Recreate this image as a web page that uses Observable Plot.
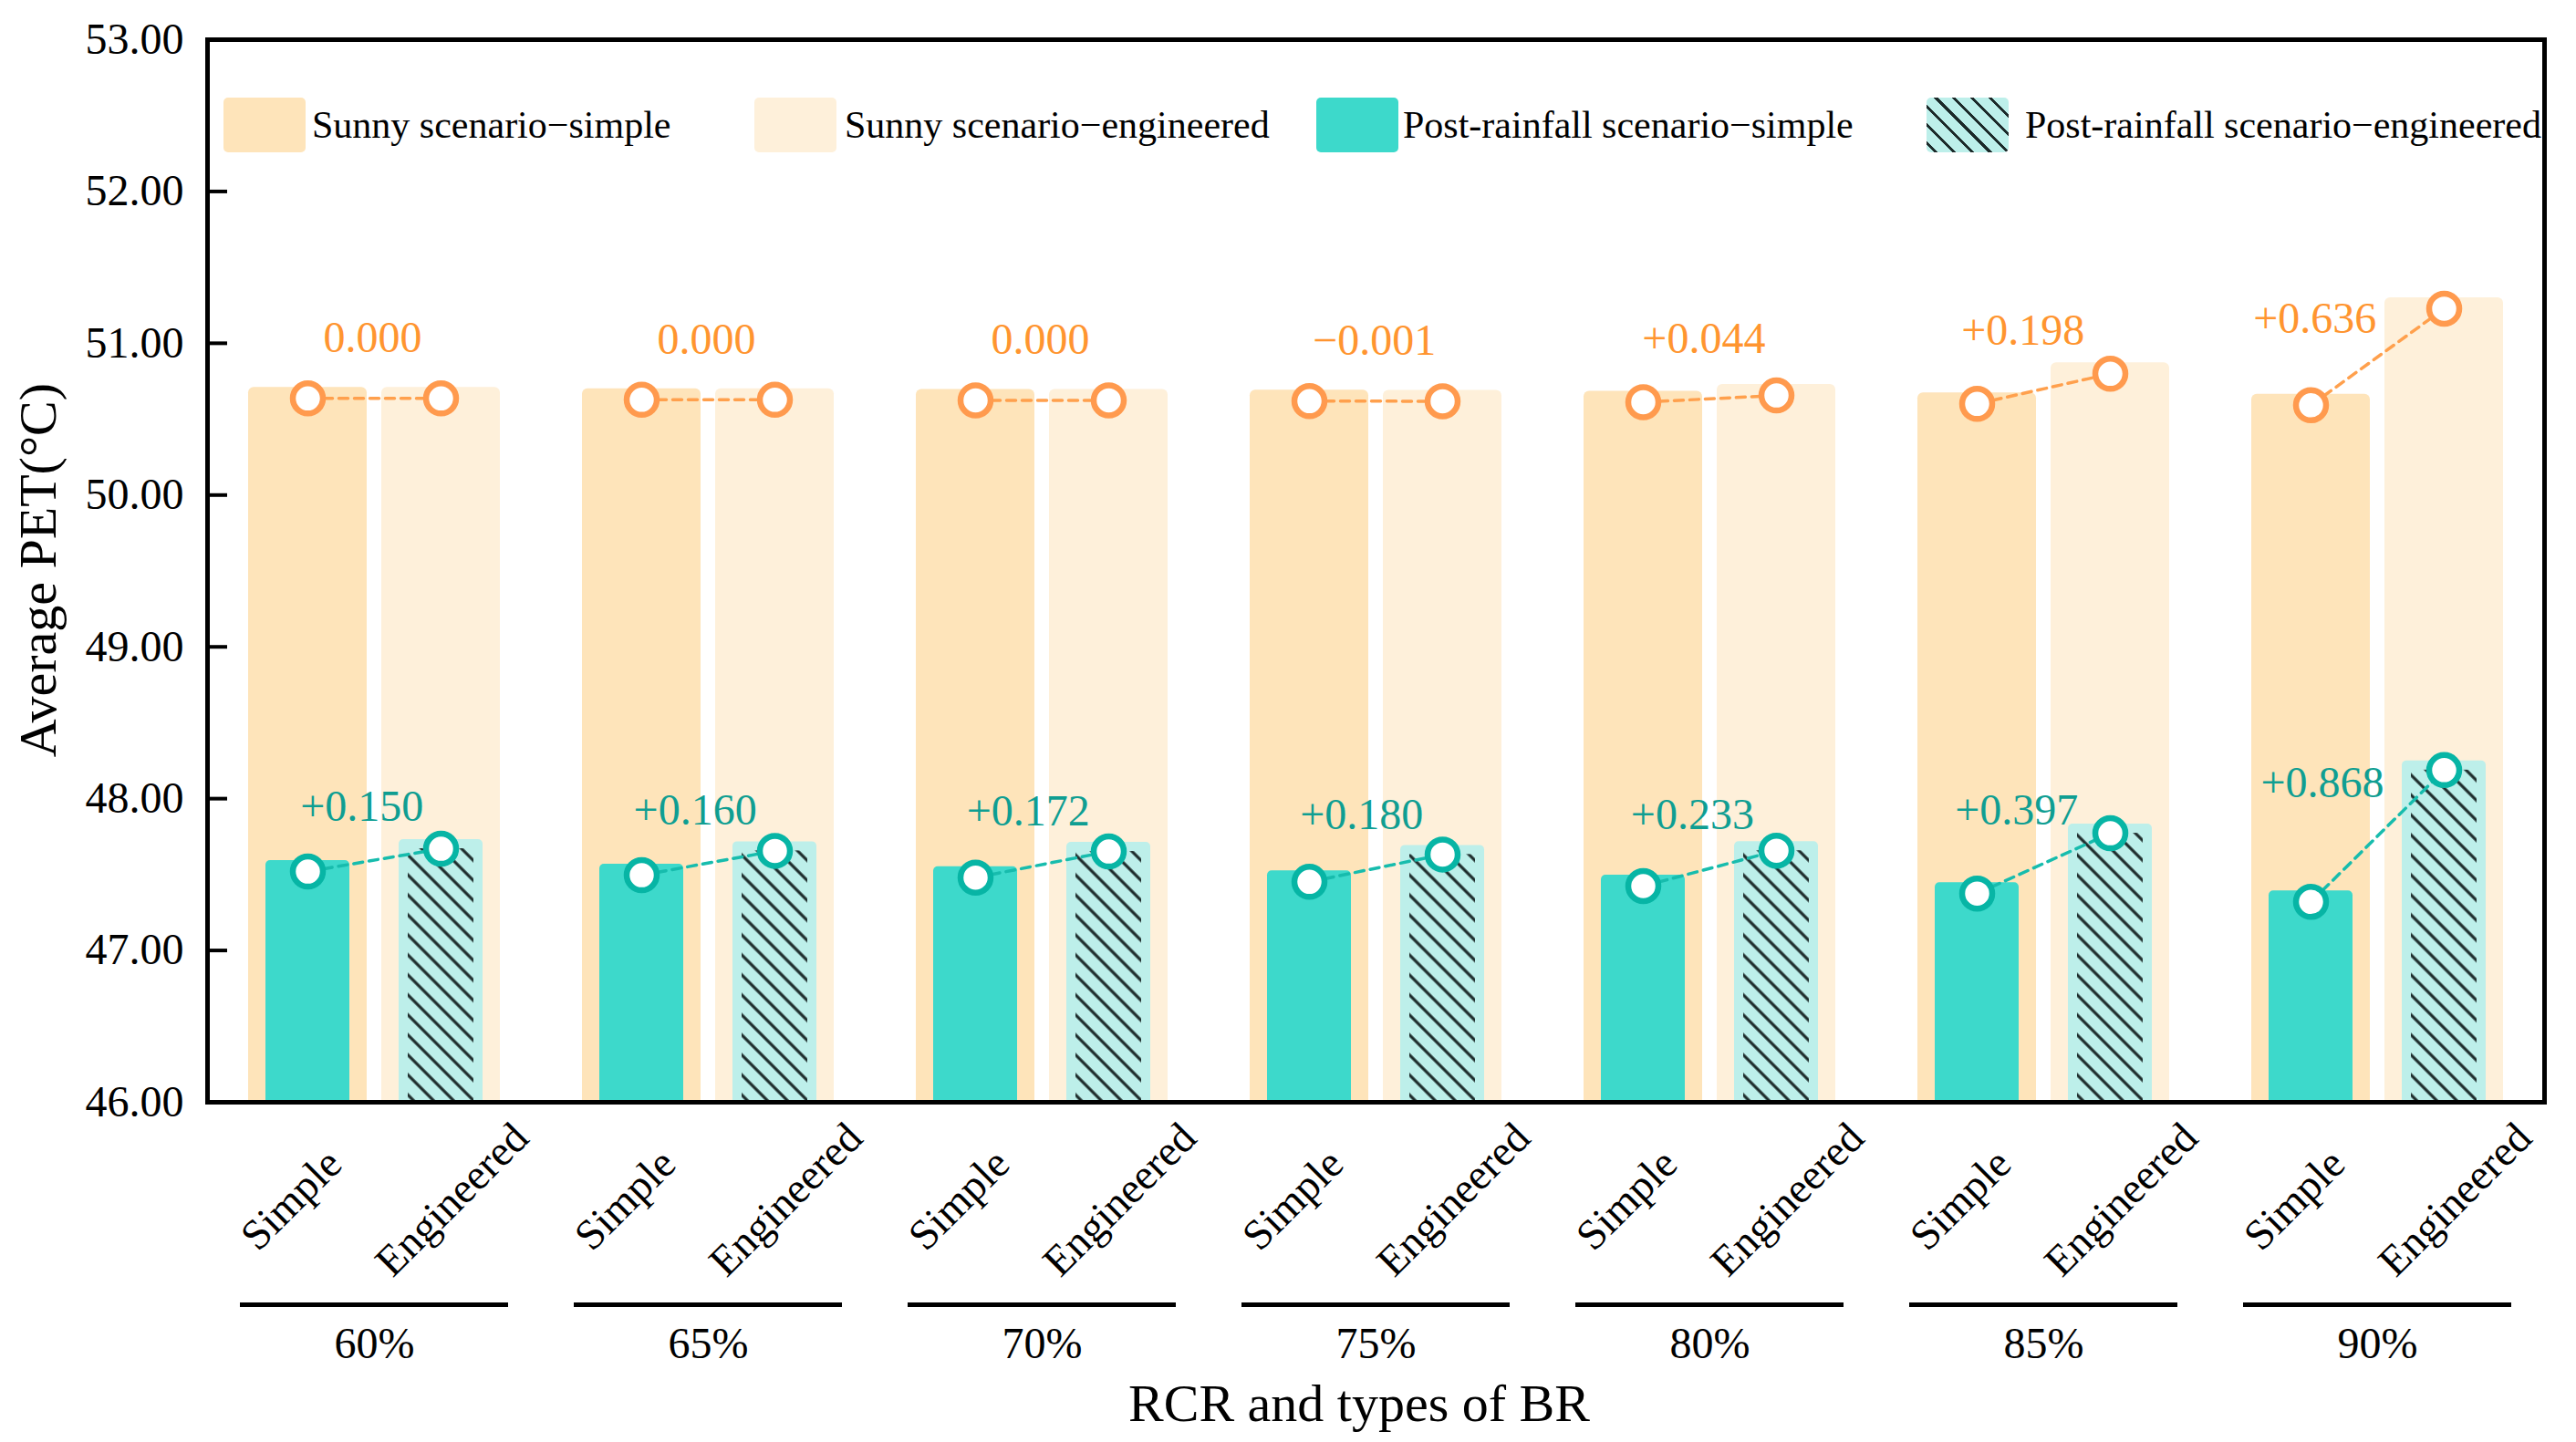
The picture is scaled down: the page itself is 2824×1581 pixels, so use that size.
<!DOCTYPE html>
<html><head><meta charset="utf-8">
<script src="https://cdn.jsdelivr.net/npm/d3@7"></script>
<script src="https://cdn.jsdelivr.net/npm/@observablehq/plot@0.6"></script>
<style>
html,body{margin:0;padding:0;background:#fff;}
#wrap{position:relative;width:2824px;height:1581px;font-family:"Liberation Serif","Times New Roman",serif;color:#000;overflow:hidden;}
#wrap svg{position:absolute;left:0;top:0;}
.sw{position:absolute;top:107px;width:90px;height:60px;border-radius:5px;}
.lbl{position:absolute;top:107px;height:60px;line-height:60px;font-size:42px;white-space:nowrap;}
.ytitle{position:absolute;font-size:58px;line-height:1;white-space:nowrap;transform:translate(-50%,-50%) rotate(-90deg);}
.xtitle{position:absolute;font-size:58px;line-height:1;white-space:nowrap;transform:translateX(-50%);}
</style></head><body><div id="wrap"></div>
<script>
// ---- data ----
const groups = ["60%", "65%", "70%", "75%", "80%", "85%", "90%"];
const types = ["Simple", "Engineered"];
const sunnySimple     = [50.637, 50.628, 50.624, 50.619, 50.612, 50.601, 50.592];
const sunnyEngineered = [50.637, 50.628, 50.624, 50.618, 50.656, 50.799, 51.228];
const rainSimple      = [47.520, 47.496, 47.480, 47.452, 47.424, 47.375, 47.320];
const rainEngineered  = [47.670, 47.656, 47.652, 47.632, 47.657, 47.772, 48.188];
const sunnyDiffLabels = ["0.000", "0.000", "0.000", "\u22120.001", "+0.044", "+0.198", "+0.636"];
const rainDiffLabels  = ["+0.150", "+0.160", "+0.172", "+0.180", "+0.233", "+0.397", "+0.868"];
const yTicks = [46, 47, 48, 49, 50, 51, 52, 53];
const yDomain = [46, 53];
const legendLabels = ["Sunny scenario\u2212simple", "Sunny scenario\u2212engineered", "Post-rainfall scenario\u2212simple", "Post-rainfall scenario\u2212engineered"];
const xTitle = "RCR and types of BR";
const yTitle = "Average PET(\u00B0C)";

// ---- styles ----
const C = {
  sunnySimple: "#FEE4BA", sunnyEng: "#FEF0DA",
  rain: "#3DD9CB", rainEngBg: "#BDEFEA", hatch: "#1c2a2a",
  orangeDot: "#FF9A4E", orangeLine: "#FFA04D", orangeText: "#FF9530",
  tealDot: "#07B5A5", tealLine: "#17BCAD", tealText: "#0F9E92"
};

const rows = groups.flatMap((g, i) => [
  {group: g, type: types[0], sunny: sunnySimple[i], rain: rainSimple[i]},
  {group: g, type: types[1], sunny: sunnyEngineered[i], rain: rainEngineered[i]}
]);
const simpleRows = rows.filter(d => d.type === types[0]);
const engRows = rows.filter(d => d.type === types[1]);
const pairs = groups.map((g, i) => ({
  group: g,
  sunnyMean: (sunnySimple[i] + sunnyEngineered[i]) / 2,
  sunnyDiff: sunnyEngineered[i] - sunnySimple[i],
  sunnyLabel: sunnyDiffLabels[i],
  rainMean: (rainSimple[i] + rainEngineered[i]) / 2,
  rainDiff: rainEngineered[i] - rainSimple[i],
  rainLabel: rainDiffLabels[i]
}));

const common = {fx: "group", x: "type"};
const xAxisStyle = {anchor: "bottom", tickSize: 0, tickPadding: 107, tickRotate: -45, textAnchor: "middle",
  lineAnchor: "middle", fontSize: 47, label: null};
const chart = Plot.plot({
  width: 2824, height: 1581,
  marginLeft: 224, marginRight: 32, marginTop: 43, marginBottom: 373,
  style: {fontFamily: '"Liberation Serif", "Times New Roman", serif', background: "white", color: "black", overflow: "visible"},
  fx: {domain: groups, padding: 0, axis: null, label: null},
  x: {domain: types, paddingInner: 0.1126, paddingOuter: 0.3083, label: null},
  y: {domain: yDomain, label: null},
  marks: [
    Plot.barY(simpleRows, {...common, y: "sunny", fill: C.sunnySimple, rx: 6, insetTop: -12, clip: true}),
    Plot.barY(engRows, {...common, y: "sunny", fill: C.sunnyEng, rx: 6, insetTop: -12, clip: true}),
    Plot.barY(simpleRows, {...common, y: "rain", fill: C.rain, rx: 5, insetLeft: 19, insetRight: 19, insetTop: -12, clip: true}),
    Plot.barY(engRows, {...common, y: "rain", fill: C.rainEngBg, rx: 5, insetLeft: 19, insetRight: 19, insetTop: -10, clip: true}),
    Plot.barY(engRows, {...common, y: "rain", fill: "url(#hatch)", insetLeft: 29, insetRight: 29, insetTop: 0, clip: true}),
    Plot.line(rows, {...common, y: "sunny", stroke: C.orangeLine, strokeWidth: 3.5, strokeDasharray: "10,7"}),
    Plot.line(rows, {...common, y: "rain", stroke: C.tealLine, strokeWidth: 3.5, strokeDasharray: "10,7"}),
    Plot.dot(rows, {...common, y: "sunny", r: 16.5, fill: "white", stroke: C.orangeDot, strokeWidth: 6.5}),
    Plot.dot(rows, {...common, y: "rain", r: 16.5, fill: "white", stroke: C.tealDot, strokeWidth: 6.5}),
    ...pairs.map(p => Plot.text([p], {fx: "group", y: "sunnyMean", text: "sunnyLabel", fill: C.orangeText, fontSize: 48,
      dx: -2 - 105 * p.sunnyDiff, dy: -66 + 60 * p.sunnyDiff * p.sunnyDiff})),
    ...pairs.map(p => Plot.text([p], {fx: "group", y: "rainMean", text: "rainLabel", fill: C.tealText, fontSize: 48,
      dx: -4 - 65 * p.rainDiff, dy: -58})),
    Plot.frame({anchor: "top", stroke: "black", strokeWidth: 5}),
    Plot.frame({anchor: "bottom", stroke: "black", strokeWidth: 5}),
    Plot.frame({anchor: "left", facetAnchor: "left", stroke: "black", strokeWidth: 5}),
    Plot.frame({anchor: "right", facetAnchor: "right", stroke: "black", strokeWidth: 5}),
    Plot.axisY(yTicks, {anchor: "left", tickSize: -22, tickPadding: 48, strokeWidth: 4, fontSize: 48,
      tickFormat: d3.format(".2f"), label: null}),
    Plot.axisX([types[0]], {...xAxisStyle, dx: -18}),
    Plot.axisX([types[1]], {...xAxisStyle, dx: 12}),
    Plot.ruleY(groups, {fx: d => d, y: () => yDomain[0], dy: 222, insetLeft: 36, insetRight: 36, stroke: "black", strokeWidth: 5}),
    Plot.text(groups, {fx: d => d, text: d => d, frameAnchor: "bottom", dy: 280, fontSize: 48, fill: "black"})
  ]
});

// hatch pattern
const ns = "http://www.w3.org/2000/svg";
const defs = document.createElementNS(ns, "defs");
const pat = document.createElementNS(ns, "pattern");
pat.setAttribute("id", "hatch");
pat.setAttribute("patternUnits", "userSpaceOnUse");
pat.setAttribute("width", "15.5");
pat.setAttribute("height", "15.5");
pat.setAttribute("patternTransform", "rotate(-45)");
const ln = document.createElementNS(ns, "line");
ln.setAttribute("x1", "7.75"); ln.setAttribute("x2", "7.75");
ln.setAttribute("y1", "-2"); ln.setAttribute("y2", "17.5");
ln.setAttribute("stroke", C.hatch); ln.setAttribute("stroke-width", "3.2");
pat.appendChild(ln); defs.appendChild(pat);
chart.insertBefore(defs, chart.firstChild);

const wrap = document.getElementById("wrap");
wrap.appendChild(chart);

// legend (inside the frame)
const swLeft = [245, 827, 1443, 2112];
const txtLeft = [342, 926, 1538, 2220];
const swFill = [C.sunnySimple, C.sunnyEng, C.rain,
  `repeating-linear-gradient(45deg, ${C.rainEngBg} 0px, ${C.rainEngBg} 6px, ${C.hatch} 6px, ${C.hatch} 9px, ${C.rainEngBg} 9px, ${C.rainEngBg} 14px)`];
legendLabels.forEach((t, i) => {
  const s = document.createElement("div");
  s.className = "sw"; s.style.left = swLeft[i] + "px"; s.style.background = swFill[i];
  wrap.appendChild(s);
  const l = document.createElement("div");
  l.className = "lbl"; l.style.left = txtLeft[i] + "px"; l.textContent = t;
  wrap.appendChild(l);
});
const yt = document.createElement("div");
yt.className = "ytitle"; yt.style.left = "42px"; yt.style.top = "625px"; yt.textContent = yTitle;
wrap.appendChild(yt);
const xt = document.createElement("div");
xt.className = "xtitle"; xt.style.left = "1490px"; xt.style.top = "1510px"; xt.textContent = xTitle;
wrap.appendChild(xt);
</script></body></html>
